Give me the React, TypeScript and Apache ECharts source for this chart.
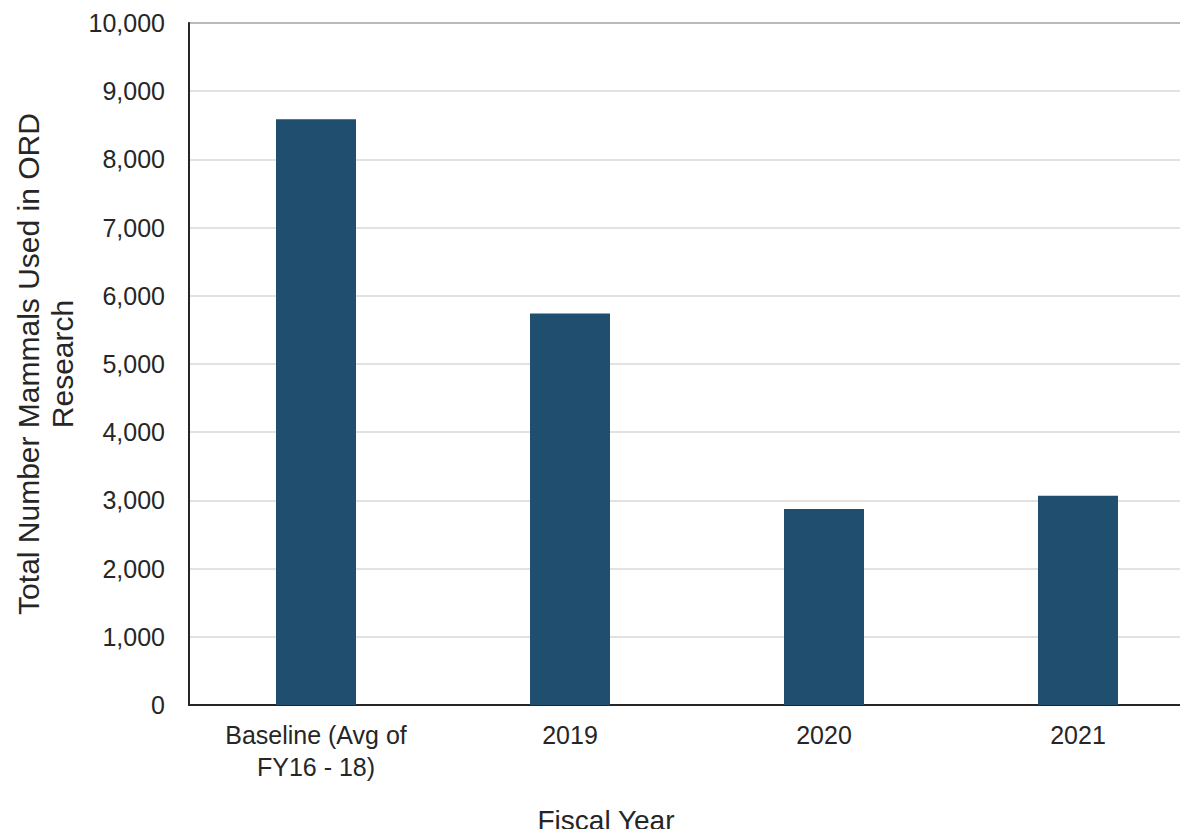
import React, { useEffect, useRef } from "react";
import * as echarts from "echarts";

const categories = ["Baseline (Avg of\nFY16 - 18)", "2019", "2020", "2021"];
const mammalCounts = [8590, 5740, 2875, 3070];
const yMin = 0;
const yMax = 10000;
const yInterval = 1000;

const FONT = "Liberation Sans, Arial, sans-serif";
const TEXT = "#262626";

export default function App() {
  const ref = useRef<HTMLDivElement>(null);

  useEffect(() => {
    if (!ref.current) return;
    const chart = echarts.init(ref.current, undefined, { renderer: "svg" });
    chart.setOption({
      animation: false,
      backgroundColor: "#ffffff",
      grid: {
        left: 189,
        top: 23,
        width: 1016,
        height: 682,
        outerBoundsMode: "none",
        containLabel: false,
        show: true,
        borderColor: "#2b2b2b",
        borderWidth: 1.5,
        backgroundColor: "transparent",
      },
      xAxis: {
        type: "category",
        data: categories,
        axisLine: { show: true, lineStyle: { color: "#262626", width: 2 } },
        axisTick: { show: false },
        axisLabel: {
          color: TEXT,
          fontFamily: FONT,
          fontSize: 25,
          lineHeight: 32,
          margin: 14,
          interval: 0,
        },
      },
      yAxis: {
        type: "value",
        min: yMin,
        max: yMax,
        interval: yInterval,
        axisLine: { show: true, lineStyle: { color: "#262626", width: 2 } },
        axisTick: { show: false },
        splitLine: { show: true, lineStyle: { color: "#d9d9d9", width: 1.5 } },
        axisLabel: {
          color: TEXT,
          fontFamily: FONT,
          fontSize: 25,
          margin: 24,
          formatter: (v: number) => v.toLocaleString("en-US"),
        },
      },
      series: [
        {
          type: "bar",
          data: mammalCounts,
          barWidth: 80,
          itemStyle: { color: "#1F4E6F" },
        },
      ],
      graphic: [
        {
          type: "text",
          x: 45,
          y: 364,
          rotation: Math.PI / 2,
          style: {
            text: "Total Number Mammals Used in ORD\nResearch",
            fill: TEXT,
            font: `30px ${FONT}`,
            align: "center",
            verticalAlign: "middle",
            lineHeight: 34,
          },
        },
        {
          type: "text",
          x: 606,
          y: 820,
          style: {
            text: "Fiscal Year",
            fill: TEXT,
            font: `28px ${FONT}`,
            align: "center",
            verticalAlign: "middle",
          },
        },
      ],
    });
    return () => chart.dispose();
  }, []);

  return <div ref={ref} style={{ width: 1188, height: 837, margin: -8 }} />;
}
